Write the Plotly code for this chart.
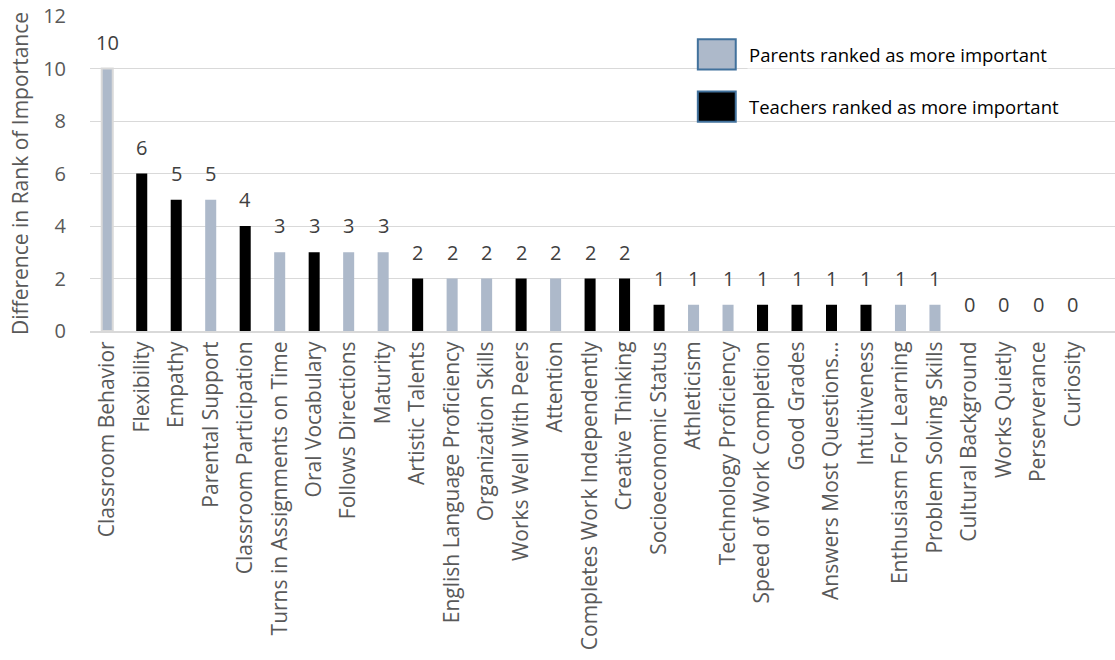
import plotly.graph_objects as go

# Difference in rank of importance for each student attribute
categories = [
    "Classroom Behavior", "Flexibility", "Empathy", "Parental Support",
    "Classroom Participation", "Turns in Assignments on Time", "Oral Vocabulary",
    "Follows Directions", "Maturity", "Artistic Talents",
    "English Language Proficiency", "Organization Skills", "Works Well With Peers",
    "Attention", "Completes Work Independently", "Creative Thinking",
    "Socioeconomic Status", "Athleticism", "Technology Proficiency",
    "Speed of Work Completion", "Good Grades", "Answers Most Questions...",
    "Intuitiveness", "Enthusiasm For Learning", "Problem Solving Skills",
    "Cultural Background", "Works Quietly", "Perserverance", "Curiosity",
]
differences = [10, 6, 5, 5, 4, 3, 3, 3, 3, 2, 2, 2, 2, 2, 2, 2,
               1, 1, 1, 1, 1, 1, 1, 1, 1, 0, 0, 0, 0]
# Which group ranked the attribute higher: P = parents, T = teachers
ranked_higher_by = ["P", "T", "T", "P", "T", "P", "T", "P", "P", "T", "P", "P", "T",
                    "P", "T", "T", "T", "P", "P", "T", "T", "T", "T", "P", "P",
                    "P", "P", "P", "P"]
legend_labels = ["Parents ranked as more important", "Teachers ranked as more important"]
y_ticks = [0, 2, 4, 6, 8, 10, 12]

PARENT_COLOR = "#ADB9CA"
TEACHER_COLOR = "#000000"
FONT = "Open Sans"

bar_colors = [PARENT_COLOR if g == "P" else TEACHER_COLOR for g in ranked_higher_by]
line_colors = ["#D9D9D9"] + bar_colors[1:]
line_widths = [2] + [0] * (len(categories) - 1)

fig = go.Figure()
fig.add_trace(go.Bar(
    x=list(range(len(categories))),
    y=differences,
    width=0.32,
    marker=dict(color=bar_colors, line=dict(color=line_colors, width=line_widths)),
    showlegend=False,
    hoverinfo="skip",
))

# Value labels above each bar
for i, v in enumerate(differences):
    fig.add_annotation(
        x=i, y=v, text=str(v), showarrow=False, yanchor="bottom", yshift=11,
        font=dict(family=FONT, size=20, color="#404040"),
    )

# Legend drawn as boxes with captions
legend_rows = [(PARENT_COLOR, 0.878), (TEACHER_COLOR, 0.712)]
for (color, yc), label in zip(legend_rows, legend_labels):
    fig.add_shape(
        type="rect", xref="paper", yref="paper",
        x0=0.593, x1=0.630, y0=yc - 0.048, y1=yc + 0.048,
        fillcolor=color, line=dict(color="#41719C", width=2), layer="above",
    )
    fig.add_annotation(
        xref="paper", yref="paper", x=0.641, y=yc, xanchor="left", yanchor="middle",
        text=label, showarrow=False,
        font=dict(family=FONT, size=18.5, color="#000000"), bgcolor="white",
    )

fig.update_layout(
    width=1115, height=660,
    margin=dict(l=90, r=0, t=16, b=329),
    paper_bgcolor="white", plot_bgcolor="white",
    font=dict(family=FONT, color="#595959"),
    xaxis=dict(
        range=[-0.5, 29.22],
        tickmode="array",
        tickvals=list(range(len(categories))),
        ticktext=categories,
        tickangle=-90,
        tickfont=dict(family=FONT, size=21, color="#595959"),
        showgrid=False, showline=True, linecolor="#D9D9D9", linewidth=2,
        ticks="", zeroline=False, fixedrange=True,
    ),
    yaxis=dict(
        range=[0, 12],
        tickvals=y_ticks,
        tickfont=dict(family=FONT, size=20, color="#595959"),
        showgrid=True, gridcolor="#D9D9D9", gridwidth=1,
        zeroline=False, showline=False, ticks="",
        ticklabelstandoff=23,
        title=dict(text="Difference in Rank of Importance",
                   font=dict(family=FONT, size=21, color="#595959"), standoff=8),
    ),
)

fig.write_html("out.html")
